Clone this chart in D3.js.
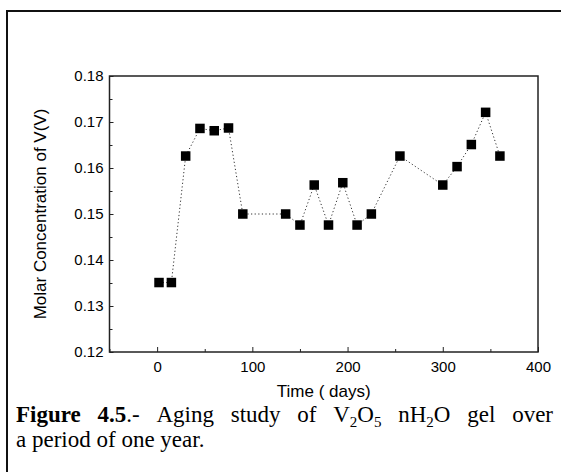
<!DOCTYPE html>
<html>
<head>
<meta charset="utf-8">
<script src="https://cdn.jsdelivr.net/npm/d3@7"></script>
<style>
  html, body { margin: 0; padding: 0; background: #fff; }
  svg { display: block; }
</style>
</head>
<body>
<svg id="chart" width="561" height="472"></svg>
<script>
// ---- data ----
const days = [2, 15, 30, 45, 60, 75, 90, 135, 150, 165, 180, 195, 210, 225, 255, 300, 315, 330, 345, 360];
const concentration = [0.1351, 0.1351, 0.1626, 0.1686, 0.1681, 0.1687, 0.1500, 0.1500, 0.1476, 0.1563,
                       0.1476, 0.1568, 0.1476, 0.1500, 0.1626, 0.1563, 0.1603, 0.1651, 0.1721, 0.1626];
const xTickValues = [0, 100, 200, 300, 400];
const yTickValues = [0.12, 0.13, 0.14, 0.15, 0.16, 0.17, 0.18];
const xLabel = "Time ( days)";
const yLabel = "Molar Concentration of V(V)";

(function () {
const svg = d3.select("#chart");

// outer frame (extends beyond the picture on right and bottom)
svg.append("rect")
  .attr("x", 7).attr("y", 11)
  .attr("width", 600).attr("height", 500)
  .attr("fill", "none").attr("stroke", "#111").attr("stroke-width", 2);

const pL = 109.5, pR = 538, pT = 76, pB = 352;
const x = d3.scaleLinear().domain([-50, 400]).range([pL, pR]);
const y = d3.scaleLinear().domain([0.12, 0.18]).range([pB, pT]);

const axisColor = "#222";
const g = svg.append("g");

const xAxis = d3.axisBottom(x).tickValues(xTickValues).tickSize(-5).tickPadding(9).tickFormat(d3.format("d"));
const xMinor = d3.axisBottom(x).tickValues([-50, 50, 150, 250, 350]).tickSize(-3).tickFormat("");
const yAxis = d3.axisLeft(y).tickValues(yTickValues).tickSize(-4).tickPadding(6).tickFormat(d3.format(".2f"));
const yMinor = d3.axisLeft(y).tickValues([0.125, 0.135, 0.145, 0.155, 0.165, 0.175]).tickSize(-3).tickFormat("");

function styleAxis(sel) {
  sel.select(".domain").remove();
  sel.selectAll("line").attr("stroke", axisColor).attr("stroke-width", 1);
  sel.selectAll("text").attr("fill", "#000")
    .style("font-family", "'Liberation Sans', Arial, sans-serif")
    .style("font-size", "15px");
}

g.append("g").attr("transform", `translate(0,${pB})`).call(xAxis).call(styleAxis);
g.append("g").attr("transform", `translate(0,${pB})`).call(xMinor).call(styleAxis);
g.append("g").attr("transform", `translate(${pL},0)`).call(yAxis).call(styleAxis);
g.append("g").attr("transform", `translate(${pL},0)`).call(yMinor).call(styleAxis);

// plot frame
svg.append("rect")
  .attr("x", pL).attr("y", pT)
  .attr("width", pR - pL).attr("height", pB - pT)
  .attr("fill", "none").attr("stroke", axisColor).attr("stroke-width", 1.5);

// dotted line
const data = days.map((d, i) => ({ x: d, y: concentration[i] }));
svg.append("path")
  .datum(data)
  .attr("d", d3.line().x(d => x(d.x)).y(d => y(d.y)))
  .attr("fill", "none")
  .attr("stroke", "#333")
  .attr("stroke-width", 1)
  .attr("stroke-dasharray", "1.2,2.4");

// square markers
const s = 9.5;
svg.selectAll("rect.pt")
  .data(data)
  .join("rect")
  .attr("class", "pt")
  .attr("x", d => x(d.x) - s / 2)
  .attr("y", d => y(d.y) - s / 2)
  .attr("width", s).attr("height", s)
  .attr("fill", "#000");

// axis titles
svg.append("text")
  .attr("x", (pL + pR) / 2).attr("y", 397)
  .attr("text-anchor", "middle")
  .style("font-family", "'Liberation Sans', Arial, sans-serif")
  .style("font-size", "17px")
  .text(xLabel);

svg.append("text")
  .attr("transform", `translate(46,${(pT + pB) / 2}) rotate(-90)`)
  .attr("text-anchor", "middle")
  .style("font-family", "'Liberation Sans', Arial, sans-serif")
  .style("font-size", "17px")
  .text(yLabel);

// caption (first line justified, second line left aligned)
const capFont = "'Liberation Serif', 'Times New Roman', serif";
const capSize = 23, subSize = 15, subDy = 5;
const line1Y = 422, line2Y = 447, capLeft = 16, capRight = 553;
const words = [
  [["Figure", "b"]],
  [["4.5", "b"], [".-", "r"]],
  [["Aging", "r"]],
  [["study", "r"]],
  [["of", "r"]],
  [["V", "r"], ["2", "s"], ["O", "r"], ["5", "s"]],
  [["nH", "r"], ["2", "s"], ["O", "r"]],
  [["gel", "r"]],
  [["over", "r"]]
];
const wordEls = words.map(parts => {
  const t = svg.append("text")
    .attr("y", line1Y)
    .style("font-family", capFont)
    .style("font-size", capSize + "px")
    .attr("fill", "#000");
  let shifted = false;
  parts.forEach(([txt, kind]) => {
    const sp = t.append("tspan").text(txt);
    if (kind === "b") sp.style("font-weight", "bold");
    if (kind === "s") {
      sp.style("font-size", subSize + "px").attr("dy", subDy);
      shifted = true;
    } else if (shifted) {
      sp.attr("dy", -subDy);
      shifted = false;
    }
  });
  return t;
});
const widths = wordEls.map(t => t.node().getComputedTextLength());
const total = widths.reduce((a, b) => a + b, 0);
const gap = (capRight - capLeft - total) / (words.length - 1);
let cx = capLeft;
wordEls.forEach((t, i) => { t.attr("x", cx); cx += widths[i] + gap; });

svg.append("text")
  .attr("x", capLeft).attr("y", line2Y)
  .style("font-family", capFont)
  .style("font-size", capSize + "px")
  .text("a period of one year.");
})();
</script>
</body>
</html>
